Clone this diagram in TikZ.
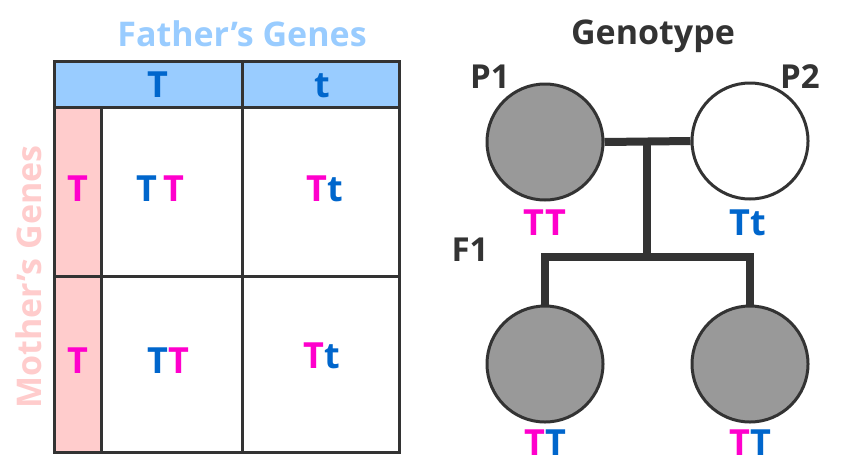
\documentclass[tikz,border=0pt]{standalone}
\usepackage{fontspec}
\setmainfont{Open Sans}
\definecolor{fatherblue}{HTML}{99CCFF}
\definecolor{motherpink}{HTML}{FFCCCC}
\definecolor{geneblue}{HTML}{0066CC}
\definecolor{genepink}{HTML}{FF00CC}
\definecolor{linegray}{HTML}{333333}
\definecolor{carrier}{HTML}{999999}
\newcommand{\gB}[1]{\textcolor{geneblue}{#1}}
\newcommand{\gP}[1]{\textcolor{genepink}{#1}}

\begin{document}
\begin{tikzpicture}[
  x=1pt, y=-1pt,
  grid/.style={draw=linegray, line width=3pt},
  gene/.style={font=\bfseries\fontsize{36}{36}\selectfont, inner sep=0pt, text height=26pt, text depth=0pt},
  heading/.style={font=\bfseries\fontsize{34}{34}\selectfont, inner sep=0pt},
  gen/.style={font=\bfseries\fontsize{33}{33}\selectfont, text=linegray, inner sep=0pt},
  person/.style={circle, draw=linegray, line width=3pt, minimum size=116pt, inner sep=0pt},
  link/.style={draw=linegray, line width=8pt}
]
  \useasboundingbox (0,0) rectangle (850,474);

  % Punnett square
  \fill[fatherblue] (54,61) rectangle (399,107);
  \fill[motherpink] (54,107) rectangle (101,452);
  \draw[grid] (54,61) rectangle (399,452);
  \draw[grid] (54,107) -- (399,107);
  \draw[grid] (54,276) -- (399,276);
  \draw[grid] (101,107) -- (101,452);
  \draw[grid] (242,61) -- (242,452);

  \node[heading, text=fatherblue] (father) at (242,34) {Father’s Genes};
  \node[heading, text=motherpink, rotate=90] (mother) at (29,277) {Mother’s Genes};

  \node[gene] (hT) at (158,84) {\gB{T}};
  \node[gene] (ht) at (322,84) {\gB{t}};
  \node[gene] (mT1) at (78,188) {\gP{T}};
  \node[gene] (mT2) at (78,360) {\gP{T}};
  \node[gene] (c11) at (160,188) {\gB{T}\,\gP{T}};
  \node[gene] (c12) at (325,188) {\gP{T}\gB{t}};
  \node[gene] (c21) at (168,360) {\gB{T}\gP{T}};
  \node[gene] (c22) at (322,355) {\gP{T}\gB{t}};

  % pedigree
  \node[heading, text=linegray] (genotype) at (653,36) {Genotype};
  \node[gen] (lp1) at (490,77) {P1};
  \node[gen] (lp2) at (800,77) {P2};
  \node[gen] (lf1) at (470,250) {F1};

  \node[person, fill=carrier] (p1) at (545,142) {};
  \node[person, fill=white] (p2) at (750,141) {};
  \node[person, fill=carrier] (f1a) at (545,364) {};
  \node[person, fill=carrier] (f1b) at (750,364) {};

  \coordinate (mate) at (647,142);
  \coordinate (sibs) at (647,257);
  \draw[link] (p1.east) -- (p2.west);
  \draw[link] (mate) -- (sibs);
  \draw[link] (f1a.north) |- (sibs) -| (f1b.north);

  \node[gene] (gp1) at (545,222) {\gP{TT}};
  \node[gene] (gp2) at (748,222) {\gB{Tt}};
  \node[gene] (gf1a) at (545,442) {\gP{T}\gB{T}};
  \node[gene] (gf1b) at (750,442) {\gP{T}\gB{T}};
\end{tikzpicture}
\end{document}
